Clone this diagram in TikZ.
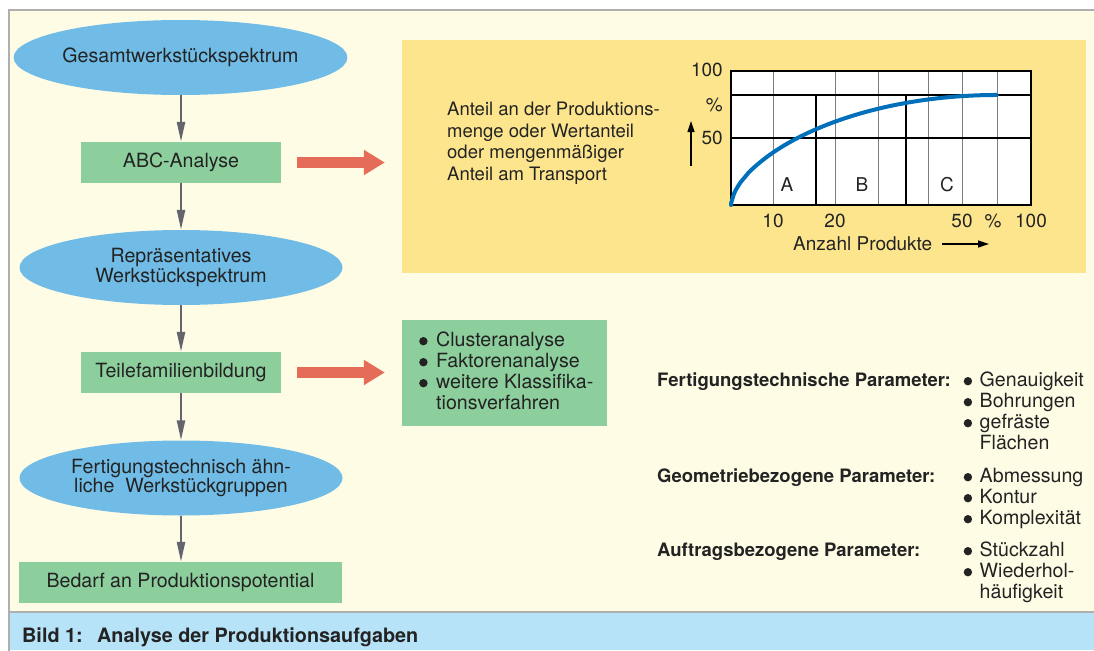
\documentclass[tikz,border=0pt]{standalone}
\usepackage{fontspec}
\setmainfont{TeX Gyre Heros}
\usetikzlibrary{shapes.geometric,arrows.meta}

\definecolor{pagebg}{RGB}{255,252,230}
\definecolor{framegray}{RGB}{175,175,175}
\definecolor{capblue}{RGB}{183,227,248}
\definecolor{ellblue}{RGB}{112,188,230}
\definecolor{boxgreen}{RGB}{141,206,157}
\definecolor{chartyellow}{RGB}{253,229,142}
\definecolor{arrowred}{RGB}{228,108,88}
\definecolor{flowgray}{RGB}{100,100,108}
\definecolor{inkgray}{RGB}{35,35,35}
\definecolor{gridgray}{RGB}{125,125,125}
\definecolor{curveblue}{RGB}{0,112,186}

% type sizes
\newcommand\dgfont{\fontsize{19.6}{21}\selectfont}
\newcommand\dgchartfont{\fontsize{18.5}{21.5}\selectfont}
\newcommand\dgaxisfont{\fontsize{19}{21}\selectfont}
\newcommand\dgheadfont{\fontsize{18.5}{21}\selectfont\bfseries}
\newcommand\dgcapfont{\fontsize{19.8}{21}\selectfont\bfseries}
% round list bullet
\newcommand\dgbul{\tikz[baseline=0pt,x=1pt,y=1pt]\fill[inkgray] (4.2,4.8) circle[radius=4.2];}

\begin{document}
\begin{tikzpicture}[x=1pt,y=-1pt,
  every node/.style={text=inkgray, font=\dgfont},
  ellnode/.style={ellipse, fill=ellblue, minimum width=323pt, minimum height=75pt,
    inner sep=0pt, align=center, font=\fontsize{19.6}{19.5}\selectfont},
  rectnode/.style={rectangle, fill=boxgreen, minimum height=41pt, inner sep=0pt},
  flowarrow/.style={draw=flowgray, line width=2.4pt, -{Triangle[length=20pt,width=8pt]}},
  bigarrow/.style={draw=arrowred, line width=11pt, -{Triangle[length=21pt,width=24pt]},
    shorten <=16pt, shorten >=17pt},
  thinarrow/.style={draw=black, line width=1.2pt, -{Triangle[length=11pt,width=7pt]}},
  gridline/.style={draw=gridgray, line width=0.9pt},
  darkline/.style={draw=black, line width=1.1pt},
  textblock/.style={anchor=base west, inner sep=0pt},
  axislabel/.style={inner sep=0pt, font=\dgaxisfont}
]
\useasboundingbox (0,0) rectangle (1094,650);

% frame and caption band
\fill[white] (0,0) rectangle (1094,650);
\fill[pagebg] (9,10) rectangle (1100,612);
\fill[capblue] (9,612) rectangle (1100,650);
\draw[framegray, line width=1.4pt] (1100,10) -- (9,10) -- (9,652);
\draw[framegray, line width=1.4pt] (9,612) -- (1100,612);
\node[textblock, font=\dgcapfont] (caption) at (22,642)
  {\makebox[75pt][l]{Bild 1:}Analyse der Produktionsaufgaben};

% flow chart
\node[ellnode] (e1) at (180.5,57.5) {Gesamtwerkstückspektrum};
\node[rectnode, minimum width=200pt] (abc) at (181,162.5) {ABC-Analyse};
\node[ellnode] (e2) at (181,267.5) {Repräsentatives\\Werkstückspektrum};
\node[rectnode, minimum width=200pt] (teil) at (181,372.5) {Teilefamilienbildung};
\node[ellnode] (e3) at (181,478) {Fertigungstechnisch ähn-\\liche\ \ Werkstückgruppen};
\node[rectnode, minimum width=323pt] (bedarf) at (180.5,582.5) {Bedarf an Produktionspotential};

\draw[flowarrow] (e1.south -| abc.north) -- (abc.north);
\draw[flowarrow] (abc.south) -- (abc.south |- e2.north);
\draw[flowarrow] (e2.south -| teil.north) -- (teil.north);
\draw[flowarrow] (teil.south) -- (teil.south |- e3.north);
\draw[flowarrow] (e3.south -| teil.north) -- (bedarf.north -| teil.north);

% ABC chart panel
\node[fill=chartyellow, minimum width=684pt, minimum height=233pt, inner sep=0pt]
  (chartbox) at (744,156.5) {};
\draw[bigarrow] (abc.east) -- (abc.east -| chartbox.west);

\node[textblock, font=\dgchartfont] (ylabel) at (447,116)
  {\begin{tabular}[t]{@{}l@{}}
   Anteil an der Produktions-\\
   menge oder Wertanteil\\
   oder mengenmäßiger\\
   Anteil am Transport
   \end{tabular}};
\coordinate (ya) at (691,166);
\coordinate (yb) at (691,121);
\draw[thinarrow] (ya) -- (yb);

\fill[white] (731,71) rectangle (1031,205);
\foreach \gx in {773,835,878,928,962,997}
  \draw[gridline] (\gx,71) -- (\gx,205);
\draw[darkline] (731,95) -- (1031,95);
\draw[darkline] (731,138) -- (1031,138);
\draw[darkline] (816,95) -- (816,205);
\draw[darkline] (906,95) -- (906,205);
\draw[black, line width=1.3pt] (731,71) rectangle (1031,205);
\draw[curveblue, line width=4pt, line cap=round]
  (731,205) -- plot[domain=0.0005:1, samples=90, smooth]
  ({731+266*\x}, {205-110*(\x*(2-\x))^0.6});

\node[axislabel, anchor=base east] (y100) at (723,77) {100};
\node[axislabel, anchor=base east] (ypct) at (723,112) {\%};
\node[axislabel, anchor=base east] (y50) at (723,144) {50};
\node[axislabel, anchor=base] (x10) at (773,227) {10};
\node[axislabel, anchor=base] (x20) at (835,227) {20};
\node[axislabel, anchor=base] (x50) at (962,227) {50};
\node[axislabel, anchor=base] (xpct) at (993,227) {\%};
\node[axislabel, anchor=base] (x100) at (1031,227) {100};
\node[axislabel, anchor=base] (la) at (787,191) {A};
\node[axislabel, anchor=base] (lb) at (862,191) {B};
\node[axislabel, anchor=base] (lc) at (947,191) {C};
\node[axislabel, anchor=base west] (xlabel) at (793,250) {Anzahl Produkte};
\coordinate (xa) at (942,244);
\coordinate (xb) at (989,244);
\draw[thinarrow] (xa) -- (xb);

% classification methods
\node[rectangle, fill=boxgreen, minimum width=205pt, minimum height=106pt, inner sep=0pt]
  (methods) at (504.5,373) {};
\draw[bigarrow] (teil.east) -- (teil.east -| methods.west);
\node[textblock] (methodlist) at (419,346)
  {\begin{tabular}[t]{@{}l@{}l@{}}
   \makebox[17pt][l]{\dgbul} & Clusteranalyse\\
   \dgbul & Faktorenanalyse\\
   \dgbul & weitere Klassifika-\\
          & tionsverfahren
   \end{tabular}};

% parameter groups
\node[textblock] (params) at (657,386)
  {\begin{tabular}[t]{@{}l@{}l@{}l@{}}
   \makebox[306.5pt][l]{\dgheadfont Fertigungstechnische Parameter:} & \makebox[16pt][l]{\dgbul} & Genauigkeit\\
   & \dgbul & Bohrungen\\
   & \dgbul & gefräste\\
   & & Flächen\\[12pt]
   {\dgheadfont Geometriebezogene Parameter:} & \dgbul & Abmessung\\
   & \dgbul & Kontur\\
   & \dgbul & Komplexität\\[11pt]
   {\dgheadfont Auftragsbezogene Parameter:} & \dgbul & Stückzahl\\
   & \dgbul & Wiederhol-\\
   & & häufigkeit
   \end{tabular}};
\end{tikzpicture}
\end{document}
